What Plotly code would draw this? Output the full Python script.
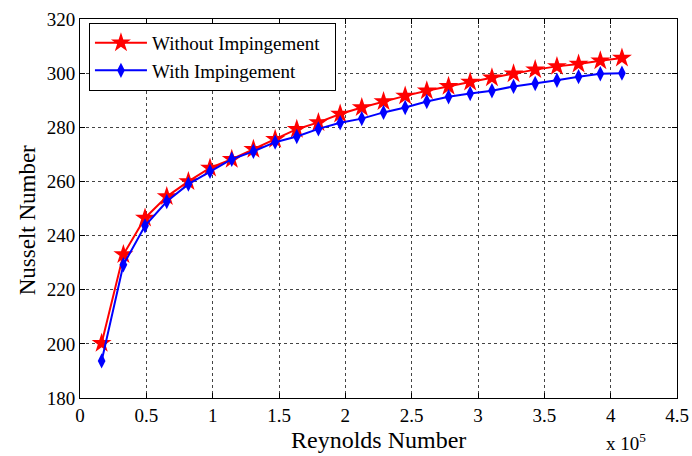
import plotly.graph_objects as go

reynolds_e5 = [0.163, 0.327, 0.490, 0.654, 0.817, 0.980, 1.144, 1.307, 1.471, 1.634,
               1.797, 1.961, 2.124, 2.288, 2.451, 2.614, 2.778, 2.941, 3.105, 3.268,
               3.431, 3.595, 3.758, 3.922, 4.085]
nu_without = [200.2, 233.0, 246.5, 254.4, 260.0, 265.0, 268.2, 271.9, 275.6, 279.3,
              281.8, 284.9, 287.3, 289.5, 291.6, 293.5, 295.2, 296.7, 298.3, 299.8,
              301.3, 302.5, 303.4, 304.6, 305.6]
nu_with = [193.7, 229.2, 243.6, 252.6, 259.0, 263.7, 268.2, 271.1, 274.5, 276.6,
           279.4, 281.7, 283.2, 285.5, 287.3, 289.5, 291.3, 292.5, 293.5, 295.1,
           296.2, 297.4, 298.7, 299.8, 300.0]
x_ticks = [0, 0.5, 1, 1.5, 2, 2.5, 3, 3.5, 4, 4.5]
x_tick_labels = ["0", "0.5", "1", "1.5", "2", "2.5", "3", "3.5", "4", "4.5"]
y_ticks = [180, 200, 220, 240, 260, 280, 300, 320]

FONT = "Liberation Serif, Times New Roman, serif"

fig = go.Figure()
fig.add_trace(go.Scatter(
    x=reynolds_e5, y=nu_without, mode="lines+markers",
    name="Without Impingement\u00a0\u00a0",
    line=dict(color="#ff0000", width=2),
    marker=dict(symbol="star", size=15, color="#ff0000", line=dict(width=0)),
))
fig.add_trace(go.Scatter(
    x=reynolds_e5, y=nu_with, mode="lines+markers", name="With Impingement",
    line=dict(color="#0000ff", width=2),
    marker=dict(symbol="diamond-tall", size=11, color="#0000ff", line=dict(width=0)),
))

axis_common = dict(
    showline=True, linecolor="black", linewidth=1, mirror="ticks",
    ticks="inside", ticklen=5, tickcolor="black", automargin=False,
    showgrid=True, gridcolor="#444444", gridwidth=1, griddash="3px,3px",
    zeroline=False, tickfont=dict(family=FONT, size=19, color="black"),
)

fig.update_xaxes(range=[0, 4.5], tickvals=x_ticks, ticktext=x_tick_labels, **axis_common)
fig.update_yaxes(range=[180, 320], tickvals=y_ticks, **axis_common)

fig.update_layout(
    width=692, height=456,
    margin=dict(l=80, r=15, t=19, b=58),
    paper_bgcolor="white", plot_bgcolor="white",
    font=dict(family=FONT, color="black"),
    showlegend=True,
    legend=dict(
        x=0.015, y=0.99, xanchor="left", yanchor="top",
        bgcolor="white", bordercolor="black", borderwidth=1,
        font=dict(family=FONT, size=19, color="black"),
        itemwidth=52, tracegroupgap=0,
    ),
    annotations=[
        dict(text="Reynolds Number", xref="paper", yref="paper", x=0.5, y=-0.11,
             xanchor="center", yanchor="middle", showarrow=False,
             font=dict(family=FONT, size=24, color="black")),
        dict(text="Nusselt Number", xref="paper", yref="paper", x=-0.088, y=0.47,
             xanchor="center", yanchor="middle", showarrow=False, textangle=-90,
             font=dict(family=FONT, size=23, color="black")),
        dict(text="x 10<sup>5</sup>", xref="paper", yref="paper", x=0.915, y=-0.115,
             xanchor="center", yanchor="middle", showarrow=False,
             font=dict(family=FONT, size=19, color="black")),
    ],
)

fig.write_html("out.html", config={"displayModeBar": False},
               post_script="document.body.style.margin='0';document.body.style.overflow='hidden';")
